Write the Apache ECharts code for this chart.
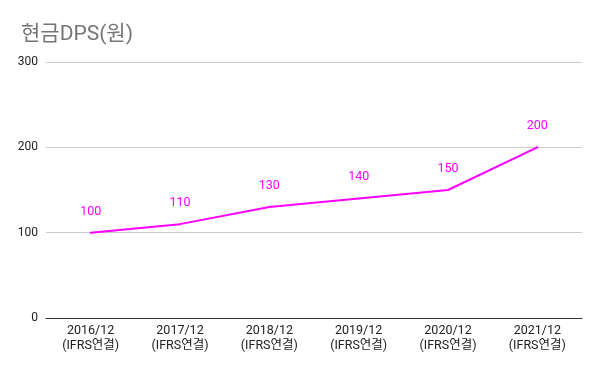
<!DOCTYPE html>
<html><head><meta charset="utf-8">
<script src="https://cdn.jsdelivr.net/npm/echarts@6/dist/echarts.min.js"></script>
<style>html,body{margin:0;padding:0;background:#fff}#c{width:600px;height:371px}</style>
</head><body><div id="c"></div>
<script>
const categories = ['2016/12\n(IFRS연결)','2017/12\n(IFRS연결)','2018/12\n(IFRS연결)','2019/12\n(IFRS연결)','2020/12\n(IFRS연결)','2021/12\n(IFRS연결)'];
const dps = [100, 110, 130, 140, 150, 200];
const yTicks = [0, 100, 200, 300];
const chart = echarts.init(document.getElementById('c'), null, {renderer:'canvas'});
chart.setOption({
  animation:false,
  backgroundColor:'#fff',
  title:{text:'현금DPS(원)', left:16, top:19, textStyle:{fontFamily:'Roboto, "Noto Sans CJK KR"', fontSize:21, fontWeight:'normal', color:'#757575'}},
  grid:{left:46, right:18, top:62, bottom:53},
  xAxis:{type:'category', data:categories, boundaryGap:true,
    axisLine:{lineStyle:{color:'#333', width:1}}, axisTick:{show:false},
    axisLabel:{color:'#222', fontSize:12.5, lineHeight:15, margin:5, fontFamily:'Roboto, "Noto Sans CJK KR"'}},
  yAxis:{type:'value', min:yTicks[0], max:yTicks[yTicks.length-1], interval:100,
    axisLine:{show:false}, axisTick:{show:false},
    splitLine:{lineStyle:{color:'#ccc'}},
    axisLabel:{color:'#222', fontSize:12, margin:8, fontFamily:'Roboto, "Noto Sans CJK KR"'}},
  series:[{type:'line', data:dps, symbol:'circle', symbolSize:2, showSymbol:true, itemStyle:{color:'#ff00ff', borderWidth:0},
    lineStyle:{color:'#ff00ff', width:2},
    label:{show:true, position:'top', distance:14, color:'#ff00ff', fontSize:12.5, fontFamily:'Roboto, "Noto Sans CJK KR"'}}]
});
</script></body></html>
